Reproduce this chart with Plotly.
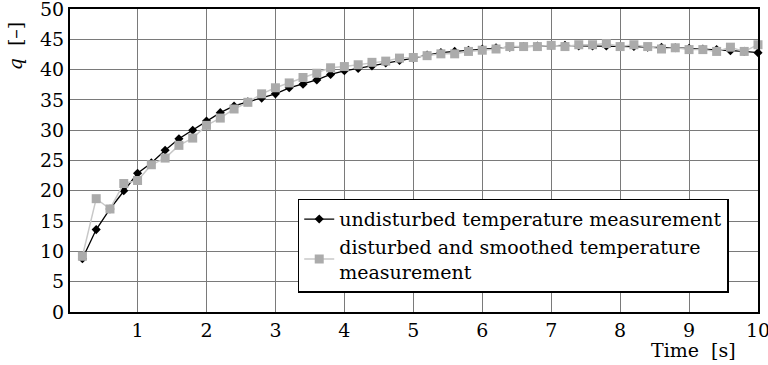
import plotly.graph_objects as go

time_s = [0.2, 0.4, 0.6, 0.8, 1.0, 1.2, 1.4, 1.6, 1.8, 2.0,
          2.2, 2.4, 2.6, 2.8, 3.0, 3.2, 3.4, 3.6, 3.8, 4.0,
          4.2, 4.4, 4.6, 4.8, 5.0, 5.2, 5.4, 5.6, 5.8, 6.0,
          6.2, 6.4, 6.6, 6.8, 7.0, 7.2, 7.4, 7.6, 7.8, 8.0,
          8.2, 8.4, 8.6, 8.8, 9.0, 9.2, 9.4, 9.6, 9.8, 10.0]

undisturbed = [8.8, 13.6, 17.0, 20.0, 22.9, 24.6, 26.7, 28.6, 30.0, 31.5,
               32.9, 34.0, 34.7, 35.3, 36.0, 37.0, 37.6, 38.3, 39.2, 39.8,
               40.2, 40.6, 41.1, 41.5, 41.9, 42.4, 42.8, 43.0, 43.2, 43.4,
               43.6, 43.7, 43.8, 43.9, 44.0, 44.0, 43.9, 43.9, 43.9, 43.8,
               43.8, 43.7, 43.7, 43.6, 43.5, 43.4, 43.3, 43.1, 43.0, 42.8]

disturbed_smoothed = [9.2, 18.7, 17.0, 21.2, 21.7, 24.3, 25.4, 27.5, 28.7, 30.8,
                      32.0, 33.5, 34.6, 36.0, 37.0, 37.8, 38.7, 39.4, 40.3, 40.5,
                      40.8, 41.2, 41.4, 41.9, 42.0, 42.3, 42.6, 42.6, 43.0, 43.2,
                      43.4, 43.8, 43.8, 43.8, 44.0, 43.8, 44.1, 44.1, 44.3, 43.8,
                      44.1, 43.8, 43.4, 43.6, 43.3, 43.3, 43.0, 43.7, 43.0, 44.1]

x_ticks = [1, 2, 3, 4, 5, 6, 7, 8, 9, 10]
y_ticks = [0, 5, 10, 15, 20, 25, 30, 35, 40, 45, 50]

FONT = "DejaVu Serif"

fig = go.Figure()
fig.add_trace(go.Scatter(
    x=time_s, y=undisturbed, mode="lines+markers",
    name="undisturbed temperature measurement",
    line=dict(color="black", width=1.3),
    marker=dict(symbol="diamond", size=7, color="black"),
    cliponaxis=False,
))
fig.add_trace(go.Scatter(
    x=time_s, y=disturbed_smoothed, mode="lines+markers",
    name="disturbed and smoothed temperature<br>measurement",
    line=dict(color="#c8c8c8", width=1.5),
    marker=dict(symbol="square", size=9, color="#ababab"),
    cliponaxis=False,
))

axis_common = dict(
    showline=True, mirror=True, linecolor="black", linewidth=2,
    showgrid=True, gridcolor="#7a7a7a", gridwidth=1,
    zeroline=False, ticks="", automargin=False,
    ticklabeloverflow="allow",
    tickfont=dict(family=FONT, size=19, color="black"),
)
fig.update_xaxes(range=[0.02, 10], tickvals=x_ticks, ticktext=[str(v) for v in x_ticks], **axis_common)
fig.update_yaxes(range=[0, 50], tickvals=y_ticks, ticktext=[str(v) for v in y_ticks], **axis_common)

fig.update_layout(
    width=768, height=365,
    margin=dict(l=70, r=10, t=9, b=53, autoexpand=False),
    paper_bgcolor="white", plot_bgcolor="white",
    font=dict(family=FONT, size=19, color="black"),
    legend=dict(
        x=0.331, y=0.374, xanchor="left", yanchor="top",
        bgcolor="white", bordercolor="black", borderwidth=1.5,
        font=dict(family=FONT, size=19, color="black"),
        tracegroupgap=0, itemwidth=30,
    ),
    annotations=[
        dict(text="Time  [s]", xref="paper", yref="paper", x=0.971, y=-0.124,
             xanchor="right", yanchor="middle", showarrow=False,
             font=dict(family=FONT, size=19, color="black")),
        dict(text="<i>q</i>  [–]", xref="paper", yref="paper", x=-0.08, y=0.88,
             xanchor="center", yanchor="middle", showarrow=False, textangle=-90,
             font=dict(family=FONT, size=19, color="black")),
    ],
)

fig.write_html(
    "out.html",
    config={"displayModeBar": False},
    post_script="document.body.style.margin='0';document.body.style.overflow='hidden';",
)
